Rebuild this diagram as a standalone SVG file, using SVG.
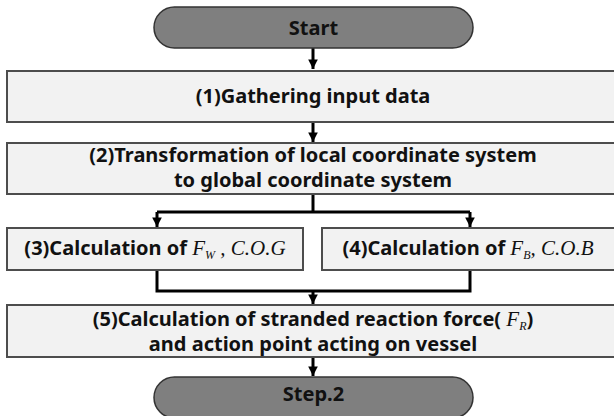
<svg xmlns="http://www.w3.org/2000/svg" width="614" height="416" viewBox="0 0 614 416">
<style>
.term{fill:#7f7f7f;stroke:#333;stroke-width:1.5}
.box{fill:#f2f2f2;stroke:#4d4d4d;stroke-width:2}
.t{font-family:"Noto Sans","Open Sans",sans-serif;font-weight:bold;font-size:20px;fill:#111;text-anchor:middle}
.m{font-family:"Liberation Serif","Times New Roman",serif;font-style:italic;font-weight:normal;font-size:21px}
.s{font-size:12px}
.c{fill:none;stroke:#000;stroke-width:3}
</style>
<defs>
<marker id="ah" viewBox="0 0 10 10" refX="10" refY="5" markerWidth="3.2" markerHeight="3.2" orient="auto" markerUnits="strokeWidth">
<path d="M0,0 L10,5 L0,10 z" fill="#000"/>
</marker>
</defs>
<g id="connectors">
<path class="c" d="M313,48 V69" marker-end="url(#ah)"/>
<path class="c" d="M313,122 V142" marker-end="url(#ah)"/>
<path class="c" d="M313,194 V212"/>
<path class="c" d="M157,212 H470"/>
<path class="c" d="M157,212 V227" marker-end="url(#ah)"/>
<path class="c" d="M470,212 V227" marker-end="url(#ah)"/>
<path class="c" d="M157,270 V291 H470 V270"/>
<path class="c" d="M313,291 V304" marker-end="url(#ah)"/>
<path class="c" d="M313,357 V376" marker-end="url(#ah)"/>
</g>
<g id="start">
<rect class="term" x="154" y="7" width="319" height="41" rx="20.5"/>
<text class="t" x="313.5" y="35">Start</text>
</g>
<g id="n1">
<rect class="box" x="7" y="71" width="612" height="51"/>
<text class="t" x="313" y="103">(1)Gathering input data</text>
</g>
<g id="n2">
<rect class="box" x="7" y="143" width="612" height="51"/>
<text class="t" x="313" y="162">(2)Transformation of local coordinate system</text>
<text class="t" x="313" y="187">to global coordinate system</text>
</g>
<g id="n3">
<rect class="box" x="7" y="228" width="296" height="42"/>
<text class="t" x="155" y="255">(3)Calculation of <tspan class="m">F</tspan><tspan class="m s" dy="4">W</tspan><tspan class="m" dy="-4"> , C.O.G</tspan></text>
</g>
<g id="n4">
<rect class="box" x="322" y="228" width="295" height="42"/>
<text class="t" x="468" y="255">(4)Calculation of <tspan class="m">F</tspan><tspan class="m s" dy="4">B</tspan><tspan class="m" dy="-4">, C.O.B</tspan></text>
</g>
<g id="n5">
<rect class="box" x="7" y="305" width="612" height="52"/>
<text class="t" x="313" y="326">(5)Calculation of stranded reaction force( <tspan class="m">F</tspan><tspan class="m s" dy="4">R</tspan><tspan dy="-4">)</tspan></text>
<text class="t" x="313" y="351">and action point acting on vessel</text>
</g>
<g id="step2">
<rect class="term" x="154" y="377" width="319" height="41" rx="20.5"/>
<text class="t" x="313.5" y="401">Step.2</text>
</g>
</svg>
